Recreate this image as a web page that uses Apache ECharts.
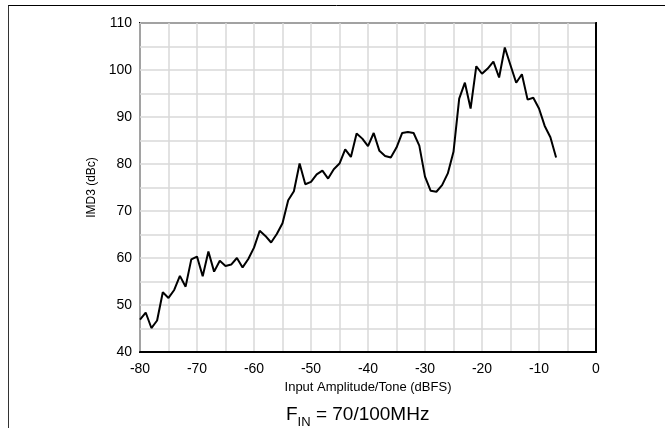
<!DOCTYPE html>
<html>
<head>
<meta charset="utf-8">
<script src="https://cdn.jsdelivr.net/npm/echarts@6/dist/echarts.min.js"></script>
<style>
  html, body { margin: 0; padding: 0; background: #fff; }
  #chart { width: 665px; height: 428px; }
</style>
</head>
<body>
<div id="chart"></div>
<script>
// 输入幅度 (dBFS)
var inputLevel = [
  -80, -79, -78, -77, -76, -75, -74, -73, -72, -71, -70, -69, -68, -67, -66, -65,
  -64, -63, -62, -61, -60, -59, -58, -57, -56, -55, -54, -53, -52, -51, -50, -49,
  -48, -47, -46, -45, -44, -43, -42, -41, -40, -39, -38, -37, -36, -35, -34, -33,
  -32, -31, -30, -29, -28, -27, -26, -25, -24, -23, -22, -21, -20, -19, -18, -17,
  -16, -15, -14, -13, -12, -11, -10, -9, -8, -7
];
// IMD3 (dBc)
var imd3 = [
  46.9, 48.4, 45.1, 46.7, 52.7, 51.5, 53.2, 56.2, 53.9, 59.7, 60.3, 56.1, 61.4, 57.1, 59.4, 58.3,
  58.6, 60.0, 58.0, 59.8, 62.2, 65.8, 64.7, 63.3, 65.1, 67.4, 72.3, 74.2, 80.1, 75.7, 76.2, 77.8,
  78.6, 76.9, 78.9, 80.1, 83.1, 81.5, 86.5, 85.4, 83.8, 86.6, 82.8, 81.7, 81.4, 83.5, 86.6, 86.8,
  86.6, 83.9, 77.3, 74.3, 74.1, 75.5, 78.0, 82.6, 93.9, 97.3, 91.8, 100.8, 99.2, 100.3, 101.8, 98.4,
  104.8, 101.0, 97.3, 99.1, 93.7, 94.1, 91.8, 88.1, 85.7, 81.4
];
var xTicks = [-80, -70, -60, -50, -40, -30, -20, -10, 0];
var yTicks = [40, 50, 60, 70, 80, 90, 100, 110];

var chart = echarts.init(document.getElementById("chart"));
var points = inputLevel.map(function (x, i) { return [x, imd3[i]]; });
var font = "Liberation Sans, Arial, sans-serif";

chart.setOption({
  animation: false,
  title: {
    text: "{a|F}{b|IN}{a| = 70/100MHz}",
    left: 281,
    top: 400,
    textStyle: {
      fontWeight: "normal",
      rich: {
        a: { fontFamily: font, fontSize: 19, fontWeight: "normal", color: "#000", verticalAlign: "bottom" },
        b: { fontFamily: font, fontSize: 13, fontWeight: "normal", color: "#000", verticalAlign: "bottom", padding: [0, 0, -5, 0] }
      }
    }
  },
  // 外框
  graphic: [
    {
      type: "line",
      shape: { x1: 8, y1: 5.5, x2: 665, y2: 5.5 },
      style: { stroke: "#000", lineWidth: 1 },
      silent: true
    },
    {
      type: "line",
      shape: { x1: 8.5, y1: 5.5, x2: 8.5, y2: 428 },
      style: { stroke: "#333", lineWidth: 1 },
      silent: true
    }
  ],
  grid: {
    left: 140,
    right: 69,
    top: 23,
    bottom: 76,
    show: true,
    borderColor: "#000",
    borderWidth: 2,
    backgroundColor: "transparent"
  },
  xAxis: {
    type: "value",
    min: -80,
    max: 0,
    interval: 5,
    name: "Input Amplitude/Tone (dBFS)",
    nameLocation: "middle",
    nameGap: 18,
    nameTextStyle: { fontFamily: font, fontSize: 13, color: "#000" },
    axisLine: { show: true, lineStyle: { color: "#000", width: 2 } },
    axisTick: { show: false },
    axisLabel: {
      margin: 10,
      fontFamily: font,
      fontSize: 14,
      color: "#000",
      formatter: function (v) { return xTicks.indexOf(v) >= 0 ? String(v) : ""; }
    },
    splitLine: { show: true, lineStyle: { color: "#d8d8d8", width: 1.5 } }
  },
  yAxis: {
    type: "value",
    min: 40,
    max: 110,
    interval: 5,
    name: "IMD3 (dBc)",
    nameLocation: "middle",
    nameGap: 41,
    nameTextStyle: { fontFamily: font, fontSize: 12, color: "#000" },
    axisLine: { show: true, lineStyle: { color: "#000", width: 2 } },
    axisTick: { show: false },
    axisLabel: {
      margin: 8,
      fontFamily: font,
      fontSize: 14,
      color: "#000",
      formatter: function (v) { return yTicks.indexOf(v) >= 0 ? String(v) : ""; }
    },
    splitLine: { show: true, lineStyle: { color: "#d8d8d8", width: 1.5 } }
  },
  series: [
    {
      type: "line",
      data: points,
      showSymbol: false,
      lineStyle: { color: "#000", width: 2 },
      z: 3
    }
  ]
});
</script>
</body>
</html>
